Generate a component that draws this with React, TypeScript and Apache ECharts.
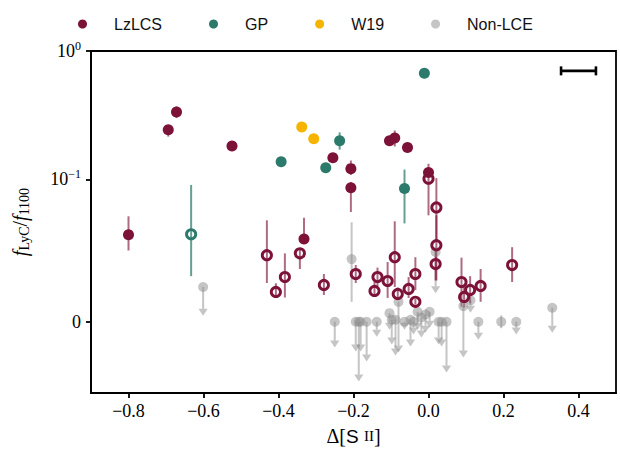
import React, { useEffect, useRef } from "react";
import * as echarts from "echarts";

// ---- symlog transform (linthresh 0.1, linscale 1, base 10) ----
const LINTHRESH = 0.1;
const LINSCALE = 1 / (1 - 1 / 10);
const symlog = (a: number): number => {
  const m = Math.abs(a);
  if (m <= LINTHRESH) return (a / LINTHRESH) * LINSCALE;
  return Math.sign(a) * (LINSCALE + Math.log10(m / LINTHRESH));
};

// ---- axes ----
const X_MIN = -0.9;
const X_MAX = 0.5;
const Y_MIN = -0.05;
const Y_MAX = 1;
const xTicks = [-0.8, -0.6, -0.4, -0.2, 0, 0.2, 0.4];
const yTicks = [0, 0.1, 1];

// ---- data: [Δ[S II], f, f_low, f_high] ----
const lzlcsDetections = [
  [-0.8, 0.061, 0.05, 0.074],
  [-0.672, 0.335, 0.3, 0.37],
  [-0.694, 0.243, 0.215, 0.265],
  [-0.524, 0.182, 0.17, 0.195],
  [-0.255, 0.147, 0.14, 0.155],
  [-0.207, 0.121, 0.108, 0.14],
  [-0.207, 0.094, 0.077, 0.098],
  [-0.104, 0.2, 0.185, 0.215],
  [-0.09, 0.21, 0.18, 0.24],
  [-0.056, 0.177, 0.17, 0.185],
  [0.0, 0.113, 0.105, 0.132],
  [-0.332, 0.058, 0.055, 0.073],
];
const lzlcsWeak = [
  [-0.431, 0.0467, 0.0272, 0.0712],
  [-0.407, 0.0209, 0.017, 0.027],
  [-0.383, 0.0314, 0.017, 0.048],
  [-0.343, 0.048, 0.037, 0.0516],
  [-0.279, 0.0258, 0.0188, 0.0335],
  [-0.194, 0.0335, 0.0272, 0.0398],
  [-0.144, 0.0216, 0.0175, 0.028],
  [-0.136, 0.0314, 0.025, 0.038],
  [-0.109, 0.0286, 0.0167, 0.0419],
  [-0.09, 0.0453, 0.0244, 0.0705],
  [-0.082, 0.0195, 0.015, 0.024],
  [-0.053, 0.023, 0.0167, 0.0314],
  [-0.035, 0.0335, 0.0223, 0.0453],
  [-0.035, 0.014, 0.012, 0.016],
  [0.021, 0.0802, 0.057, 0.102],
  [0.021, 0.0537, 0.029, 0.0747],
  [0.019, 0.0405, 0.029, 0.05],
  [0.0, 0.101, 0.0747, 0.113],
  [0.088, 0.0279, 0.0105, 0.045],
  [0.095, 0.0174, 0.01, 0.025],
  [0.111, 0.0223, 0.013, 0.032],
  [0.139, 0.0251, 0.014, 0.037],
  [0.223, 0.0398, 0.0279, 0.0523],
];
const gpDetections = [
  [-0.393, 0.137, 0.127, 0.148],
  [-0.274, 0.123, 0.118, 0.128],
  [-0.237, 0.2, 0.17, 0.232],
  [-0.064, 0.0935, 0.069, 0.119],
  [-0.011, 0.67, 0.67, 0.67],
];
const gpWeak = [[-0.633, 0.0614, 0.032, 0.096]];
const w19Points = [
  [-0.338, 0.256],
  [-0.306, 0.207],
];
// Non-LCE upper limits: [Δ[S II], f, arrow tip f]
const nonLceLimits = [
  [-0.601, 0.0244, 0.0042],
  [-0.25, 0, -0.0181],
  [-0.194, 0, -0.0209],
  [-0.186, 0, -0.0419],
  [-0.181, 0, -0.0209],
  [-0.165, 0, -0.0279],
  [-0.138, 0, -0.0105],
  [-0.104, 0.006, -0.0056],
  [-0.098, 0.0014, -0.016],
  [-0.088, 0.0014, -0.0237],
  [-0.08, 0.014, -0.0216],
  [-0.064, 0, -0.0056],
  [-0.048, 0.0014, -0.0174],
  [-0.04, 0, -0.009],
  [-0.029, 0.007, -0.0056],
  [-0.019, 0.003, -0.011],
  [-0.008, 0.005, -0.0077],
  [0.003, 0.007, -0.0042],
  [0.019, 0.049, 0.02],
  [0.027, 0, -0.016],
  [0.035, 0, -0.0174],
  [0.048, 0, -0.0356],
  [0.093, 0.011, -0.0251],
  [0.112, 0.015, 0.0063],
  [0.133, 0, -0.0126],
  [0.234, 0, -0.009],
  [0.33, 0.0098, -0.0077],
];
const nonLceDetections = [
  [-0.205, 0.044, 0.014, 0.0698],
  [0.194, 0, -0.0045, 0.0045],
];
// typical horizontal uncertainty: [x, f, half width]
const typicalError = [0.4, 0.7, 0.0465];

const RED = "#7d1238";
const RED_ERR = "rgba(125,18,56,0.62)";
const TEAL = "#2b7a6b";
const TEAL_ERR = "rgba(43,122,107,0.72)";
const GOLD = "#f4b400";
const GRAY = "rgba(140,140,140,0.5)";

const SERIF = "Liberation Serif";

function errorBars(name: string, data: number[][], color: string) {
  return {
    type: "custom",
    name,
    silent: true,
    data: data.map((d) => [d[0], symlog(d[1]), symlog(d[2]), symlog(d[3])]),
    encode: { x: 0, y: [1, 2, 3] },
    renderItem: (_p: any, api: any) => {
      const lo = api.coord([api.value(0), api.value(2)]);
      const hi = api.coord([api.value(0), api.value(3)]);
      return {
        type: "line",
        shape: { x1: lo[0], y1: lo[1], x2: hi[0], y2: hi[1] },
        style: { stroke: color, lineWidth: 2 },
      };
    },
  };
}

function markers(name: string, data: number[][], color: string, hollow: boolean, size = 11) {
  return {
    type: "scatter",
    name,
    silent: true,
    symbol: "circle",
    symbolSize: hollow ? 9.2 : size,
    data: data.map((d) => [d[0], symlog(d[1])]),
    itemStyle: hollow
      ? { color: "rgba(0,0,0,0)", borderColor: color, borderWidth: 2.9, opacity: 1 }
      : { color, opacity: 1 },
  };
}

export default function App() {
  const ref = useRef<HTMLDivElement>(null);
  useEffect(() => {
    if (!ref.current) return;
    const chart = echarts.init(ref.current, null, { renderer: "svg" });
    const yLabel = (v: number) => {
      if (Math.abs(v) < 1e-6) return "{b|0}";
      const e = Math.round(v - LINSCALE + Math.log10(LINTHRESH));
      return "{b|10}{s|" + (e < 0 ? "−" + Math.abs(e) : String(e)) + "}";
    };
    const option: any = {
      animation: false,
      backgroundColor: "#fff",
      legend: {
        data: ["LzLCS", "GP", "W19", "Non-LCE"],
        icon: "circle",
        itemWidth: 9,
        itemHeight: 9,
        itemGap: 47,
        left: 73,
        top: 11,
        selectedMode: false,
        textStyle: {
          fontFamily: "Liberation Sans",
          fontSize: 16,
          color: "#111",
          padding: [0, 0, 0, 22],
        },
      },
      grid: {
        left: 91,
        right: 4,
        top: 51,
        bottom: 59,
        show: true,
        borderColor: "#000",
        borderWidth: 1.8,
        backgroundColor: "transparent",
      },
      xAxis: {
        type: "value",
        min: X_MIN,
        max: X_MAX,
        name: "{n|Δ[}{s|S }{c|II}{n|]}",
        nameLocation: "middle",
        nameGap: 33,
        nameTextStyle: {
          rich: {
            n: { fontFamily: SERIF, fontSize: 20, color: "#000" },
            s: { fontFamily: "Liberation Sans", fontSize: 19, color: "#000" },
            c: { fontFamily: SERIF, fontSize: 15, color: "#000" },
          },
        },
        axisLine: { show: true, onZero: false, lineStyle: { color: "#000", width: 1.8 } },
        axisTick: { show: true, customValues: xTicks, length: 5, lineStyle: { color: "#000", width: 1.8 } },
        axisLabel: {
          customValues: xTicks,
          margin: 9,
          fontFamily: SERIF,
          fontSize: 18,
          color: "#000",
          formatter: (v: number) => (v < -1e-9 ? "−" : "") + Math.abs(v).toFixed(1),
        },
        splitLine: { show: false },
      },
      yAxis: {
        type: "value",
        min: symlog(Y_MIN),
        max: symlog(Y_MAX),
        name: "{i|f}{u|LyC}{n|/}{i|f}{u|1100}",
        nameLocation: "middle",
        nameRotate: 90,
        nameGap: 60,
        nameTextStyle: {
          rich: {
            i: { fontFamily: SERIF, fontStyle: "italic", fontSize: 20, lineHeight: 22, color: "#000" },
            n: { fontFamily: SERIF, fontSize: 20, lineHeight: 22, color: "#000" },
            u: { fontFamily: SERIF, fontSize: 14, lineHeight: 14, verticalAlign: "bottom", color: "#000" },
          },
        },
        axisLine: { show: true, onZero: false, lineStyle: { color: "#000", width: 1.8 } },
        axisTick: { show: true, customValues: yTicks.map(symlog), length: 5, lineStyle: { color: "#000", width: 1.8 } },
        axisLabel: {
          customValues: yTicks.map(symlog),
          margin: 10,
          formatter: yLabel,
          rich: {
            b: { fontFamily: SERIF, fontSize: 18, lineHeight: 22, color: "#000" },
            s: { fontFamily: SERIF, fontSize: 12, lineHeight: 12, verticalAlign: "top", color: "#000" },
          },
        },
        splitLine: { show: false },
      },
      series: [
        // Non-LCE upper limits
        {
          type: "custom",
          name: "Non-LCE arrows",
          silent: true,
          data: nonLceLimits.map((d) => [d[0], symlog(d[1]), symlog(d[2])]),
          encode: { x: 0, y: [1, 2] },
          renderItem: (_p: any, api: any) => {
            const p = api.coord([api.value(0), api.value(1)]);
            const t = api.coord([api.value(0), api.value(2)]);
            return {
              type: "group",
              children: [
                {
                  type: "line",
                  shape: { x1: p[0], y1: p[1], x2: t[0], y2: t[1] - 7 },
                  style: { stroke: GRAY, lineWidth: 2 },
                },
                {
                  type: "polygon",
                  shape: {
                    points: [
                      [t[0] - 4.6, t[1] - 7],
                      [t[0] + 4.6, t[1] - 7],
                      [t[0], t[1]],
                    ],
                  },
                  style: { fill: GRAY },
                },
              ],
            };
          },
        },
        errorBars("Non-LCE err", nonLceDetections, GRAY),
        markers("Non-LCE", [...nonLceLimits, ...nonLceDetections], GRAY, false, 10),
        // GP
        errorBars("GP err", [...gpDetections, ...gpWeak], TEAL_ERR),
        markers("GP", gpDetections, TEAL, false),
        markers("GP weak", gpWeak, TEAL, true),
        // W19
        markers("W19", w19Points, GOLD, false),
        // LzLCS
        errorBars("LzLCS err", [...lzlcsDetections, ...lzlcsWeak], RED_ERR),
        markers("LzLCS", lzlcsDetections, RED, false),
        markers("LzLCS weak", lzlcsWeak, RED, true),
        // typical uncertainty bar
        {
          type: "custom",
          name: "typical error",
          silent: true,
          data: [[typicalError[0], symlog(typicalError[1]), typicalError[2]]],
          encode: { x: 0, y: 1 },
          renderItem: (_p: any, api: any) => {
            const x = api.value(0);
            const y = api.value(1);
            const h = api.value(2);
            const a = api.coord([x - h, y]);
            const b = api.coord([x + h, y]);
            const st = { stroke: "#000", lineWidth: 2.6 };
            return {
              type: "group",
              children: [
                { type: "line", shape: { x1: a[0], y1: a[1], x2: b[0], y2: b[1] }, style: st },
                { type: "line", shape: { x1: a[0], y1: a[1] - 4.5, x2: a[0], y2: a[1] + 4.5 }, style: st },
                { type: "line", shape: { x1: b[0], y1: b[1] - 4.5, x2: b[0], y2: b[1] + 4.5 }, style: st },
              ],
            };
          },
        },
      ],
    };
    chart.setOption(option);
    return () => chart.dispose();
  }, []);
  return (
    <div
      ref={ref}
      style={{ position: "fixed", left: 0, top: 0, width: 620, height: 452, background: "#fff" }}
    />
  );
}
